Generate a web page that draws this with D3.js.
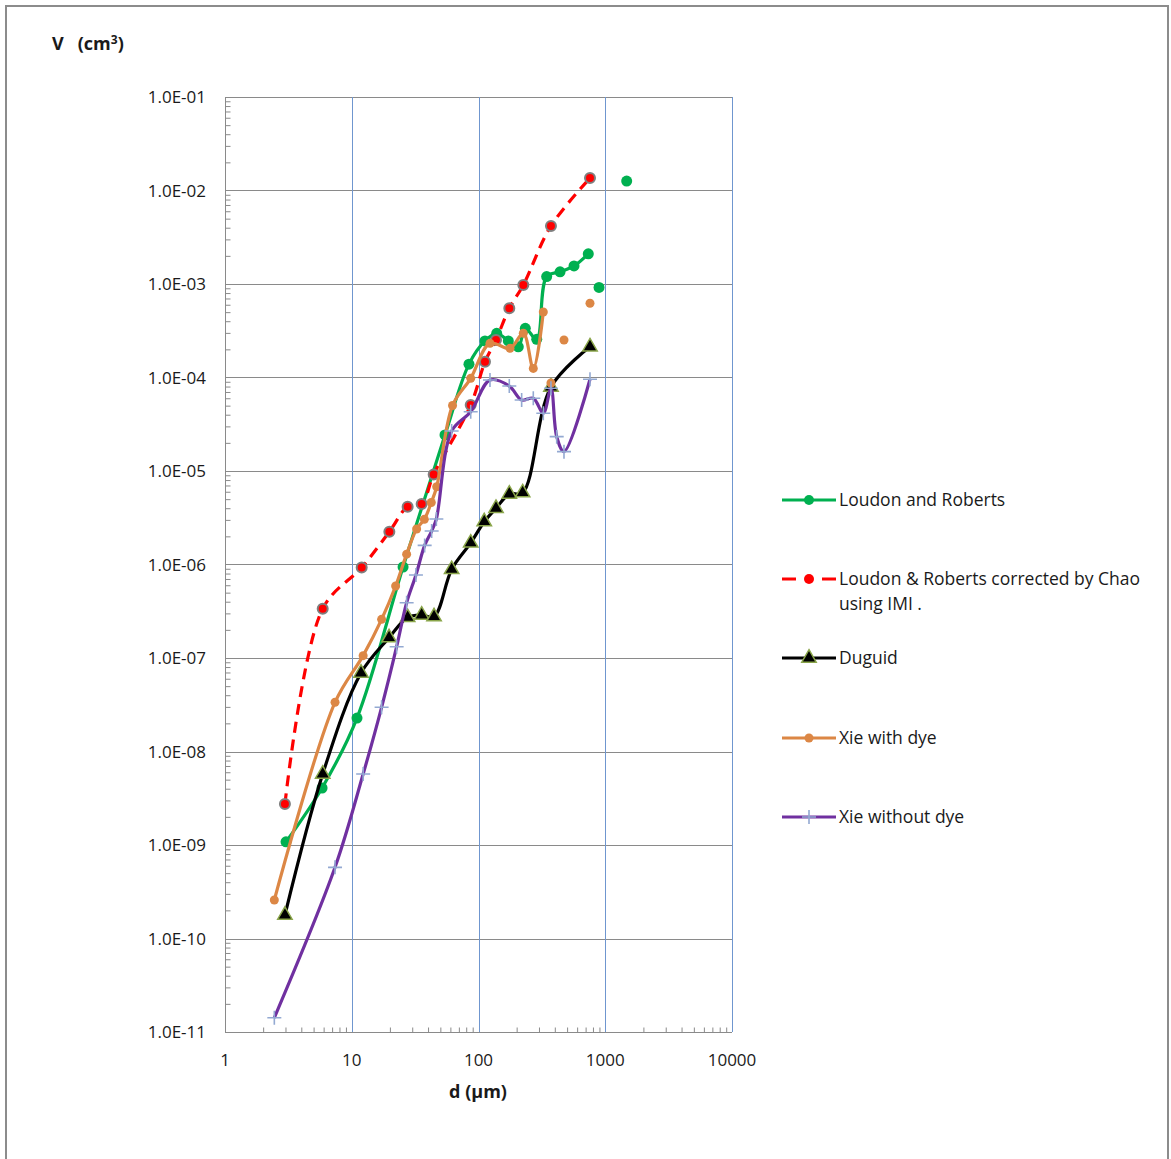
<!DOCTYPE html>
<html>
<head>
<meta charset="utf-8">
<script src="https://cdn.jsdelivr.net/npm/d3@7"></script>
<style>
  body { margin: 0; background: #fff; }
  svg text { font-family: 'Open Sans', 'Liberation Sans', sans-serif; fill: #1a1a1a; }
</style>
</head>
<body>
<div></div>
<script>
// data (d in µm, V in cm3)

const loudonD = [3.03, 5.83, 11.0, 25.4, 54.4, 84.1, 112.5, 139.2, 171.9, 206, 234, 288, 345, 440, 567, 735];
const loudonV = [1.08e-9, 4.07e-9, 2.28e-8, 9.4e-7, 2.43e-5, 1.39e-4, 2.46e-4, 2.97e-4, 2.46e-4, 2.13e-4, 3.36e-4, 2.56e-4, 1.2e-3, 1.35e-3, 1.56e-3, 2.1e-3];
const loudonLooseD = [893, 1476];
const loudonLooseV = [9.2e-4, 1.26e-2];

const chaoD = [2.97, 5.9, 11.98, 19.8, 27.6, 35.6, 44.3, 86.8, 112.5, 137.4, 175, 225.7, 373, 758];
const chaoV = [2.75e-9, 3.37e-7, 9.3e-7, 2.24e-6, 4.15e-6, 4.44e-6, 9.2e-6, 5.08e-5, 1.47e-4, 2.52e-4, 5.5e-4, 9.76e-4, 4.17e-3, 1.36e-2];

const duguidD = [2.97, 5.9, 11.83, 19.7, 27.6, 35.6, 44.6, 61.4, 86.8, 111, 137.4, 175, 223, 373, 758];
const duguidV = [1.78e-10, 5.74e-9, 6.91e-8, 1.65e-7, 2.72e-7, 2.88e-7, 2.77e-7, 8.85e-7, 1.7e-6, 2.87e-6, 3.99e-6, 5.68e-6, 5.86e-6, 7.91e-5, 2.13e-4];

const dyeD = [2.45, 7.38, 12.3, 17.2, 22.2, 27.1, 32.5, 37.4, 42.4, 46.8, 62.4, 86.8, 123.2, 177.2, 225.7, 270.6, 324.5];
const dyeV = [2.58e-10, 3.36e-8, 1.06e-7, 2.59e-7, 5.89e-7, 1.29e-6, 2.4e-6, 3.04e-6, 4.6e-6, 6.79e-6, 5.02e-5, 9.8e-5, 2.32e-4, 2.05e-4, 2.97e-4, 1.25e-4, 5.02e-4];
const dyeLooseD = [373, 472.6, 758];
const dyeLooseV = [8.73e-5, 2.52e-4, 6.22e-4];

const noDyeD = [2.45, 7.38, 12.3, 17.2, 22.6, 27.1, 32.1, 37.6, 42.7, 46.5, 61.4, 86.8, 123.2, 175, 219, 270.6, 324.5, 373, 414, 472.6, 758];
const noDyeV = [1.42e-11, 5.77e-10, 5.74e-9, 2.97e-8, 1.32e-7, 3.9e-7, 7.72e-7, 1.6e-6, 2.28e-6, 3.07e-6, 2.68e-5, 4.31e-5, 9.4e-5, 8.1e-5, 5.74e-5, 6.0e-5, 4.14e-5, 7.66e-5, 2.33e-5, 1.61e-5, 9.57e-5];

const xTicks = [1, 10, 100, 1000, 10000];
const yTicks = [1e-11, 1e-10, 1e-9, 1e-8, 1e-7, 1e-6, 1e-5, 1e-4, 1e-3, 1e-2, 1e-1];

const legendNames = ['Loudon and Roberts', 'Loudon & Roberts corrected by Chao', 'Duguid', 'Xie with dye', 'Xie without dye'];

// dimensions

const w = 1171;
const h = 1159;
const padL = 225, padR = 732, padT = 97, padB = 1032;

const xScale = d3.scaleLog().domain([1, 10000]).range([padL, padR]);
const yScale = d3.scaleLog().domain([1e-11, 1e-1]).range([padB, padT]);

const svg = d3.select('body').select('div')
  .append('svg')
  .attr('width', w)
  .attr('height', h);

// outer frame (no bottom edge visible)
svg.append('path')
  .attr('d', 'M6,1159 V6 H1168 V1159')
  .attr('fill', 'none')
  .attr('stroke', '#8c8c8c')
  .attr('stroke-width', 2);

// grid

const grid = svg.append('g');
grid.selectAll('.hgrid')
  .data(yTicks)
  .enter()
  .append('line')
  .attr('x1', padL).attr('x2', padR)
  .attr('y1', (d) => Math.round(yScale(d)) + 0.5)
  .attr('y2', (d) => Math.round(yScale(d)) + 0.5)
  .attr('stroke', '#8a8a8a')
  .attr('stroke-width', 1);

grid.selectAll('.vgrid')
  .data(xTicks.slice(1))
  .enter()
  .append('line')
  .attr('y1', padT).attr('y2', padB)
  .attr('x1', (d) => Math.round(xScale(d)) + 0.5)
  .attr('x2', (d) => Math.round(xScale(d)) + 0.5)
  .attr('stroke', '#6f96cf')
  .attr('stroke-width', 1);

// minor ticks
const minorX = [];
for (let e = 0; e < 4; e++) for (let m = 2; m < 10; m++) minorX.push(m * Math.pow(10, e));
const minorY = [];
for (let e = -11; e < -1; e++) for (let m = 2; m < 10; m++) minorY.push(m * Math.pow(10, e));

const xAxis = d3.axisBottom(xScale).tickValues(minorX).tickSize(-5).tickFormat('');
svg.append('g')
  .attr('transform', 'translate(0,' + (padB + 0.5) + ')')
  .call(xAxis)
  .call((g) => g.selectAll('line').attr('stroke', '#8a8a8a'))
  .call((g) => g.select('.domain').attr('stroke', '#8a8a8a').attr('d', 'M' + padL + ',0H' + padR));

const yAxis = d3.axisLeft(yScale).tickValues(minorY).tickSize(-5).tickFormat('');
svg.append('g')
  .attr('transform', 'translate(' + (padL + 0.5) + ',0)')
  .call(yAxis)
  .call((g) => g.selectAll('line').attr('stroke', '#8a8a8a'))
  .call((g) => g.select('.domain').attr('stroke', '#8a8a8a').attr('d', 'M0,' + padT + 'V' + padB));

// tick labels

svg.selectAll('.xlab')
  .data(xTicks)
  .enter()
  .append('text')
  .attr('x', (d) => xScale(d))
  .attr('y', 1066)
  .attr('text-anchor', 'middle')
  .style('font-size', '17px')
  .text((d) => d);

svg.selectAll('.ylab')
  .data(yTicks)
  .enter()
  .append('text')
  .attr('x', 206)
  .attr('y', (d) => yScale(d) + 6)
  .attr('text-anchor', 'end')
  .style('font-size', '17px')
  .text((d) => '1.0E-' + String(-Math.round(Math.log10(d))).padStart(2, '0'));

// axis titles
svg.append('text')
  .attr('x', 52).attr('y', 50)
  .style('font-size', '18px').style('font-weight', 'bold')
  .html('V&#160;&#160;&#160;(cm<tspan dy="-6" style="font-size:12px">3</tspan><tspan dy="6">)</tspan>');

svg.append('text')
  .attr('x', 478).attr('y', 1098)
  .attr('text-anchor', 'middle')
  .style('font-size', '18px').style('font-weight', 'bold')
  .text('d (µm)');

// series

const zip = (xs, ys) => xs.map((x, i) => [x, ys[i]]);
const line = d3.line()
  .x((d) => xScale(d[0]))
  .y((d) => yScale(d[1]))
  .curve(d3.curveCatmullRom.alpha(0.5));

const plot = svg.append('g');

function drawLine(pts, color, dash) {
  plot.append('path')
    .attr('d', line(pts))
    .attr('fill', 'none')
    .attr('stroke', color)
    .attr('stroke-width', 3.2)
    .attr('stroke-linejoin', 'round')
    .attr('stroke-dasharray', dash || null);
}

function circles(g, pts, r, fill, stroke, sw) {
  g.selectAll(null)
    .data(pts)
    .enter()
    .append('circle')
    .attr('cx', (d) => xScale(d[0]))
    .attr('cy', (d) => yScale(d[1]))
    .attr('r', r)
    .attr('fill', fill)
    .attr('stroke', stroke || 'none')
    .attr('stroke-width', sw || 0);
}

const triangle = d3.symbol().type(d3.symbolTriangle).size(90);
function triangles(g, pts) {
  g.selectAll(null)
    .data(pts)
    .enter()
    .append('path')
    .attr('d', triangle)
    .attr('transform', (d) => 'translate(' + xScale(d[0]) + ',' + yScale(d[1]) + ')')
    .attr('fill', '#000')
    .attr('stroke', '#8aa54a')
    .attr('stroke-width', 1.5);
}

function pluses(g, pts) {
  g.selectAll(null)
    .data(pts)
    .enter()
    .append('path')
    .attr('d', 'M-7,0H7M0,-7V7')
    .attr('transform', (d) => 'translate(' + xScale(d[0]) + ',' + yScale(d[1]) + ')')
    .attr('stroke', '#93a9d2')
    .attr('stroke-width', 1.6);
}

const loudon = zip(loudonD, loudonV);
const chao = zip(chaoD, chaoV);
const duguid = zip(duguidD, duguidV);
const dye = zip(dyeD, dyeV);
const noDye = zip(noDyeD, noDyeV);

drawLine(loudon, '#00b050');
circles(plot, loudon, 5.5, '#00b050');
circles(plot, zip(loudonLooseD, loudonLooseV), 5.5, '#00b050');

drawLine(chao, '#ff0000', '11,7');
circles(plot, chao, 5, '#ff0000', '#7f7f7f', 2);

drawLine(duguid, '#000000');
triangles(plot, duguid);

drawLine(dye, '#dc8745');
circles(plot, dye, 4.5, '#dc8745');
circles(plot, zip(dyeLooseD, dyeLooseV), 4.5, '#dc8745');

drawLine(noDye, '#7030a0');
pluses(plot, noDye);

// legend

const legendY = [500, 579, 658, 738, 817];
const legendColors = ['#00b050', '#ff0000', '#000000', '#dc8745', '#7030a0'];
const legend = svg.append('g');

legendNames.forEach((name, i) => {
  const y = legendY[i];
  const g = legend.append('g');
  if (i === 1) {
    g.append('path').attr('d', 'M782,' + y + 'H796M822,' + y + 'H836')
      .attr('stroke', legendColors[i]).attr('stroke-width', 3.2);
  } else {
    g.append('line').attr('x1', 782).attr('x2', 836).attr('y1', y).attr('y2', y)
      .attr('stroke', legendColors[i]).attr('stroke-width', 3.2);
  }
  const pt = [[xScale.invert(809), yScale.invert(y)]];
  if (i === 0) circles(g, pt, 5, '#00b050');
  if (i === 1) circles(g, pt, 5, '#ff0000');
  if (i === 2) triangles(g, pt);
  if (i === 3) circles(g, pt, 4.5, '#dc8745');
  if (i === 4) pluses(g, pt);

  const t = g.append('text')
    .attr('x', 839).attr('y', y + 6)
    .style('font-size', '17.5px');
  if (i === 1) {
    t.text('Loudon & Roberts corrected by Chao');
    g.append('text').attr('x', 839).attr('y', y + 31).style('font-size', '17.5px').text('using IMI .');
  } else {
    t.text(name);
  }
});
</script>
</body>
</html>
